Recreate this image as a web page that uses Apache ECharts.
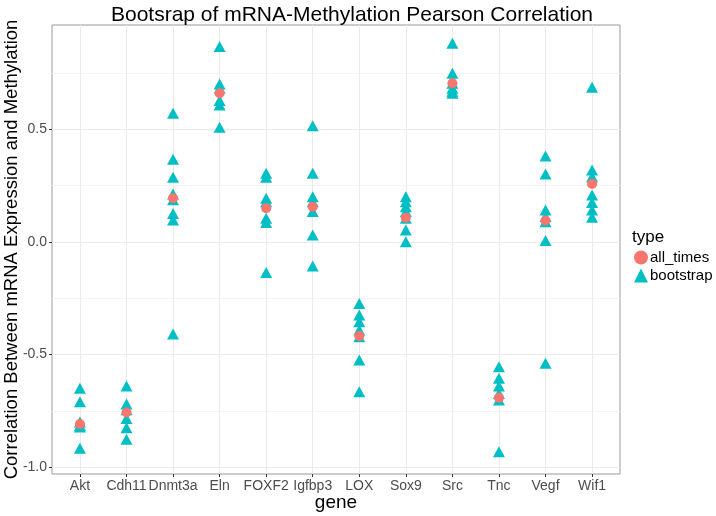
<!DOCTYPE html>
<html><head><meta charset="utf-8">
<script src="https://cdn.jsdelivr.net/npm/echarts@6/dist/echarts.min.js"></script>
<style>html,body{margin:0;padding:0;background:#fff}#c{width:716px;height:516px}</style>
</head><body><div id="c"></div>
<script>
const genes = ['Akt','Cdh11','Dnmt3a','Eln','FOXF2','Igfbp3','LOX','Sox9','Src','Tnc','Vegf','Wif1'];
const bootAkt = [-0.650, -0.710, -0.800, -0.815, -0.822, -0.917];
const bootCdh11 = [-0.640, -0.720, -0.746, -0.784, -0.825, -0.877];
const bootDnmt3a = [0.572, 0.367, 0.288, 0.213, 0.187, 0.127, 0.098, -0.409];
const bootEln = [0.868, 0.702, 0.683, 0.628, 0.609, 0.510];
const bootFOXF2 = [0.305, 0.287, 0.194, 0.179, 0.105, 0.086, -0.136];
const bootIgfbp3 = [0.516, 0.305, 0.201, 0.179, 0.135, 0.031, -0.107];
const bootLOX = [-0.273, -0.324, -0.354, -0.391, -0.421, -0.524, -0.665];
const bootSox9 = [0.201, 0.179, 0.157, 0.135, 0.105, 0.053, 0.001];
const bootSrc = [0.883, 0.750, 0.705, 0.683, 0.661, 0.670];
const bootTnc = [-0.554, -0.606, -0.640, -0.673, -0.702, -0.932];
const bootVegf = [0.382, 0.302, 0.142, 0.113, 0.090, 0.006, -0.539];
const bootWif1 = [0.687, 0.320, 0.290, 0.209, 0.175, 0.142, 0.110];
const allTimes = [-0.809, -0.758, 0.194, 0.661, 0.150, 0.157, -0.418, 0.108, 0.705, -0.692, 0.095, 0.258];
const yTicks = [-1.0, -0.5, 0.0, 0.5];
const yTickLabels = ['-1.0', '-0.5', '0.0', '0.5'];
const yMinor = [-0.75, -0.25, 0.25, 0.75];

const bootLists = [bootAkt, bootCdh11, bootDnmt3a, bootEln, bootFOXF2, bootIgfbp3, bootLOX, bootSox9, bootSrc, bootTnc, bootVegf, bootWif1];
const bootData = [];
bootLists.forEach((arr, i) => arr.forEach(v => bootData.push([i, v])));
const allData = allTimes.map((v, i) => [i, v]);
const xIdx = genes.map((g, i) => i);

const gridLines = [];
yMinor.forEach(v => gridLines.push({yAxis: v, lineStyle: {color: '#f4f4f4', width: 1, type: 'solid'}}));
xIdx.forEach(i => gridLines.push({xAxis: i, lineStyle: {color: '#ebebeb', width: 1, type: 'solid'}}));
yTicks.forEach(v => gridLines.push({yAxis: v, lineStyle: {color: '#ebebeb', width: 1, type: 'solid'}}));

const chart = echarts.init(document.getElementById('c'), null, {renderer: 'canvas'});
const FONT = 'Liberation Sans';
chart.setOption({
  animation: false,
  backgroundColor: '#fff',
  textStyle: {fontFamily: FONT},
  title: [
    {text: 'Bootsrap of mRNA-Methylation Pearson Correlation', left: 347, top: 0, textAlign: 'center',
     textStyle: {fontFamily: FONT, fontSize: 21, fontWeight: 'normal', color: '#000'}},
    {text: 'type', left: 627, top: 224,
     textStyle: {fontFamily: FONT, fontSize: 17, fontWeight: 'normal', color: '#000'}}
  ],
  legend: {
    orient: 'vertical', left: 629, top: 245, itemWidth: 14, itemHeight: 14, itemGap: 3,
    textStyle: {fontFamily: FONT, fontSize: 15, color: '#000', padding: [0,0,0,-3]},
    data: [
      {name: 'all_times', icon: 'circle', itemStyle: {color: '#F8766D'}},
      {name: 'bootstrap', icon: 'triangle', itemStyle: {color: '#00BFC4'}}
    ]
  },
  grid: {left: 52, top: 25, width: 568, height: 449, show: true, borderColor: '#999', borderWidth: 1,
         backgroundColor: '#fff', containLabel: false, outerBoundsMode: 'none'},
  xAxis: {
    type: 'value', min: -0.6, max: 11.6, position: 'bottom',
    name: 'gene', nameLocation: 'middle', nameGap: 19, nameMoveOverlap: false,
    nameTextStyle: {fontFamily: FONT, fontSize: 19, color: '#000', verticalAlign: 'top', padding: 0},
    axisLine: {show: false, onZero: false},
    axisTick: {show: true, length: 3, lineStyle: {color: '#333'}, customValues: xIdx},
    axisLabel: {show: true, fontFamily: FONT, fontSize: 14, color: '#4d4d4d', margin: 5, customValues: xIdx,
      formatter: v => genes[Math.round(v)] || ''},
    splitLine: {show: false}
  },
  yAxis: {
    type: 'value', min: -1.031, max: 0.964, position: 'left',
    name: 'Correlation Between mRNA Expression and Methylation', nameLocation: 'middle', nameGap: 31, nameMoveOverlap: false,
    nameTextStyle: {fontFamily: FONT, fontSize: 18.5, color: '#000'},
    axisLine: {show: false, onZero: false},
    axisTick: {show: true, length: 3, lineStyle: {color: '#333'}, customValues: yTicks},
    axisLabel: {show: true, fontFamily: FONT, fontSize: 14, color: '#4d4d4d', margin: 5, customValues: yTicks,
      formatter: v => { const k = yTicks.findIndex(t => Math.abs(t - v) < 1e-6); return k >= 0 ? yTickLabels[k] : ''; }},
    splitLine: {show: false}
  },
  series: [
    {type: 'scatter', name: 'grid', data: [], silent: true, z: 0,
     markLine: {silent: true, z: 0, symbol: ['none','none'], label: {show: false}, animation: false, data: gridLines}},
    {type: 'scatter', name: 'bootstrap', symbol: 'triangle', symbolSize: [12, 11], data: bootData,
     itemStyle: {color: '#00BFC4', opacity: 1}, z: 2},
    {type: 'scatter', name: 'all_times', symbol: 'circle', symbolSize: 10, data: allData,
     itemStyle: {color: '#F8766D', opacity: 1}, z: 3}
  ]
});
</script></body></html>
